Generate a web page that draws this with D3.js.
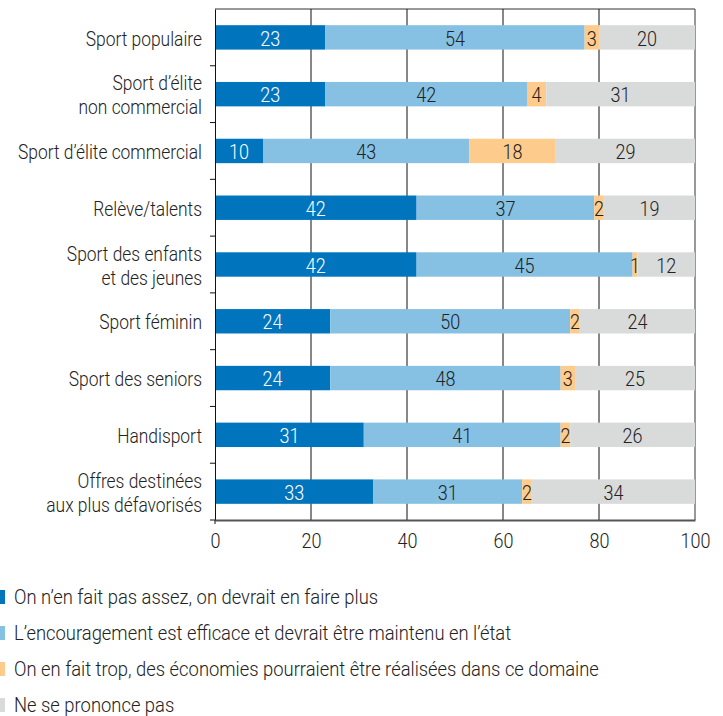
<!DOCTYPE html>
<html>
<head>
<meta charset="utf-8">
<script src="https://cdn.jsdelivr.net/npm/d3@7"></script>
<style>
  html, body { margin: 0; padding: 0; background: #fff; }
  svg { display: block; }
  text { font-family: Roboto, "Noto Sans", sans-serif; font-weight: 300; }
</style>
</head>
<body>
<svg id="chart" width="723" height="716"></svg>
<script>
const categories = [
  ["Sport populaire"],
  ["Sport d’élite", "non commercial"],
  ["Sport d’élite commercial"],
  ["Relève/talents"],
  ["Sport des enfants", "et des jeunes"],
  ["Sport féminin"],
  ["Sport des seniors"],
  ["Handisport"],
  ["Offres destinées", "aux plus défavorisés"]
];
const seriesNames = [
  "On n’en fait pas assez, on devrait en faire plus",
  "L’encouragement est efficace et devrait être maintenu en l’état",
  "On en fait trop, des économies pourraient être réalisées dans ce domaine",
  "Ne se prononce pas"
];
const plusValues    = [23, 23, 10, 42, 42, 24, 24, 31, 33];
const maintValues   = [54, 42, 43, 37, 45, 50, 48, 41, 31];
const tropValues    = [3, 4, 18, 2, 1, 2, 3, 2, 2];
const nspValues     = [20, 31, 29, 19, 12, 24, 25, 26, 34];
const xTicks = [0, 20, 40, 60, 80, 100];
const colors = ["#0075be", "#86c1e3", "#fdcb8b", "#d9dbdb"];
const labelColors = ["#ffffff", "#222222", "#222222", "#222222"];

const series = [plusValues, maintValues, tropValues, nspValues];
const svg = d3.select("#chart");
const FS = 20;
const SQ_CAT = 0.87, SQ_LEG = 0.92, SQ_NUM = 0.9;

const mLeft = 215, mRight = 695, mTop = 9, mBottom = 520;
const x = d3.scaleLinear().domain([0, 100]).range([mLeft, mRight]);
const y = d3.scaleBand().domain(d3.range(categories.length)).range([mTop, mBottom]).paddingInner(0.57).paddingOuter(0.285);
const yb = d3.scaleBand().domain(d3.range(categories.length)).range([mTop, mBottom]);

// frame top & right
svg.append("line").attr("x1", mLeft).attr("x2", mRight).attr("y1", mTop).attr("y2", mTop).attr("stroke", "#333").attr("stroke-width", 1);
svg.append("line").attr("x1", mRight).attr("x2", mRight).attr("y1", mTop).attr("y2", mBottom).attr("stroke", "#333").attr("stroke-width", 1);

// gridlines
svg.append("g").selectAll("line").data(xTicks.filter(t => t > 0 && t < 100)).join("line")
  .attr("x1", d => x(d)).attr("x2", d => x(d)).attr("y1", mTop).attr("y2", mBottom)
  .attr("stroke", "#111").attr("stroke-width", 1);

// stacked bars
const rows = categories.map((c, i) => {
  let acc = 0;
  return series.map((s, k) => { const seg = {i, k, x0: acc, v: s[i]}; acc += s[i]; return seg; });
});
const segs = rows.flat();
svg.append("g").selectAll("rect").data(segs).join("rect")
  .attr("x", d => x(d.x0)).attr("width", d => x(d.x0 + d.v) - x(d.x0))
  .attr("y", d => y(d.i)).attr("height", y.bandwidth())
  .attr("fill", d => colors[d.k]);

svg.append("g").selectAll("text").data(segs).join("text")
  .attr("transform", d => `translate(${x(d.x0 + d.v / 2)},${y(d.i) + y.bandwidth() / 2 + 1}) scale(${SQ_NUM},1)`)
  .attr("dy", "0.36em").attr("text-anchor", "middle")
  .attr("font-size", FS).attr("fill", d => labelColors[d.k])
  .text(d => d.v);

// y axis
const yAxis = d3.axisLeft(yb).tickSize(0).tickFormat(() => "");
const gy = svg.append("g").attr("transform", `translate(${mLeft},0)`).call(yAxis);
gy.select(".domain").attr("stroke", "#111");
gy.append("g").selectAll("line").data(d3.range(1, categories.length + 1)).join("line")
  .attr("x1", -5).attr("x2", 0).attr("y1", d => mTop + d * yb.step()).attr("y2", d => mTop + d * yb.step())
  .attr("stroke", "#111");

// category labels
const cat = svg.append("g").selectAll("text").data(categories).join("text")
  .attr("text-anchor", "end").attr("font-size", FS).attr("fill", "#222")
  .attr("transform", (d, i) => `translate(${mLeft - 13},${yb(i) + yb.bandwidth() / 2 + 1}) scale(${SQ_CAT},1)`);
cat.each(function(lines) {
  const t = d3.select(this);
  const n = lines.length;
  lines.forEach((l, j) => {
    t.append("tspan").attr("x", 0)
      .attr("dy", j === 0 ? (0.36 - (n - 1) * 0.6) + "em" : "1.2em").text(l);
  });
});

// x axis
const xAxis = d3.axisBottom(x).tickValues(xTicks).tickSize(0).tickPadding(14);
const gx = svg.append("g").attr("transform", `translate(0,${mBottom})`).call(xAxis);
gx.select(".domain").attr("stroke", "#555").attr("stroke-width", 2);
gx.selectAll(".tick text").attr("font-size", FS).attr("fill", "#222")
  .style("font-family", "Roboto, sans-serif").style("font-weight", 300)
  .attr("transform", `scale(${SQ_NUM},1)`);
gx.append("line").attr("x1", mLeft).attr("x2", mLeft).attr("y1", 0).attr("y2", 4).attr("stroke", "#111");

// legend
const lg = svg.append("g").selectAll("g").data(seriesNames).join("g")
  .attr("transform", (d, i) => `translate(0,${597 + i * 36})`);
lg.append("rect").attr("x", 0).attr("y", -7).attr("width", 5).attr("height", 14)
  .attr("fill", (d, i) => colors[i]);
lg.append("text").attr("transform", `translate(14,0) scale(${SQ_LEG},1)`).attr("dy", "0.36em")
  .attr("font-size", FS).attr("fill", "#222").text(d => d);
</script>
</body>
</html>
